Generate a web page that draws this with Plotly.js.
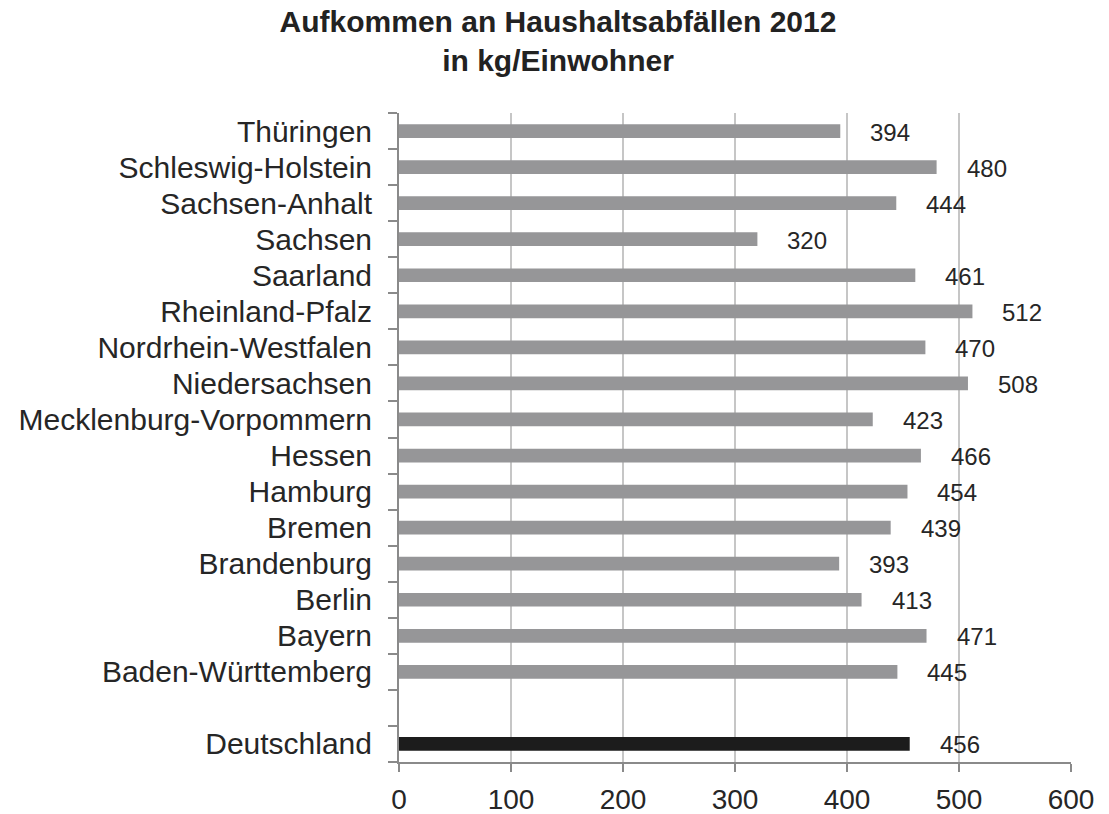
<!DOCTYPE html>
<html>
<head>
<meta charset="utf-8">
<script src="https://cdn.plot.ly/plotly-3.0.1.min.js"></script>
<style>html,body{margin:0;padding:0;background:#fff;}#chart{width:1109px;height:814px;}</style>
</head>
<body>
<div id="chart"></div>
<script>
// Categories from bottom to top
const categories = ["Deutschland", " ", "Baden-Württemberg", "Bayern", "Berlin", "Brandenburg", "Bremen", "Hamburg", "Hessen", "Mecklenburg-Vorpommern", "Niedersachsen", "Nordrhein-Westfalen", "Rheinland-Pfalz", "Saarland", "Sachsen", "Sachsen-Anhalt", "Schleswig-Holstein", "Thüringen"];
const states = ["Deutschland", "Baden-Württemberg", "Bayern", "Berlin", "Brandenburg", "Bremen", "Hamburg", "Hessen", "Mecklenburg-Vorpommern", "Niedersachsen", "Nordrhein-Westfalen", "Rheinland-Pfalz", "Saarland", "Sachsen", "Sachsen-Anhalt", "Schleswig-Holstein", "Thüringen"];
const values = [456, 445, 471, 413, 393, 439, 454, 466, 423, 508, 470, 512, 461, 320, 444, 480, 394];
const xTicks = [0, 100, 200, 300, 400, 500, 600];

const colors = states.map(s => s === "Deutschland" ? "#1c1c1c" : "#969698");

const trace = {
  type: "bar",
  orientation: "h",
  y: states,
  x: values,
  width: 0.38,
  marker: {color: colors, line: {width: 0}},
  hoverinfo: "none"
};

const annotations = states.map((s, i) => ({
  x: values[i], y: s, xref: "x", yref: "y",
  text: String(values[i]),
  showarrow: false, xanchor: "left", yanchor: "middle",
  xshift: 28, yshift: -1,
  font: {family: "Liberation Sans, Arial, sans-serif", size: 24, color: "#262626"}
}));

const layout = {
  width: 1109, height: 814,
  paper_bgcolor: "#ffffff", plot_bgcolor: "#ffffff",
  margin: {l: 399, r: 38, t: 113, b: 52, pad: 0},
  showlegend: false,
  title: {
    text: "<b>Aufkommen an Haushaltsabfällen 2012<br>in kg/Einwohner</b>",
    x: 558 / 1109, xref: "container", xanchor: "center",
    y: 1 - 32 / 814, yref: "container", yanchor: "top",
    font: {family: "Liberation Sans, Arial, sans-serif", size: 30, color: "#222222"}
  },
  xaxis: {
    range: [0, 600], tickvals: xTicks, ticktext: xTicks.map(String),
    showgrid: true, gridcolor: "#c6c6c6", gridwidth: 1.5,
    zeroline: false, showline: true, linecolor: "#8a8a8a", linewidth: 2,
    ticks: "outside", ticklen: 8, tickwidth: 2, tickcolor: "#8a8a8a",
    ticklabelstandoff: 3,
    tickfont: {family: "Liberation Sans, Arial, sans-serif", size: 28, color: "#262626"},
    fixedrange: true
  },
  yaxis: {
    type: "category", categoryorder: "array", categoryarray: categories,
    range: [-0.5, categories.length - 0.5],
    tickson: "boundaries", ticks: "outside", ticklen: 9, tickwidth: 2, tickcolor: "#8a8a8a",
    showgrid: false, zeroline: false, showline: true, linecolor: "#8a8a8a", linewidth: 2,
    ticklabelstandoff: 19,
    tickfont: {family: "Liberation Sans, Arial, sans-serif", size: 30, color: "#262626"},
    fixedrange: true
  },
  annotations: annotations
};

Plotly.newPlot("chart", [trace], layout, {staticPlot: true, displayModeBar: false});
</script>
</body>
</html>
